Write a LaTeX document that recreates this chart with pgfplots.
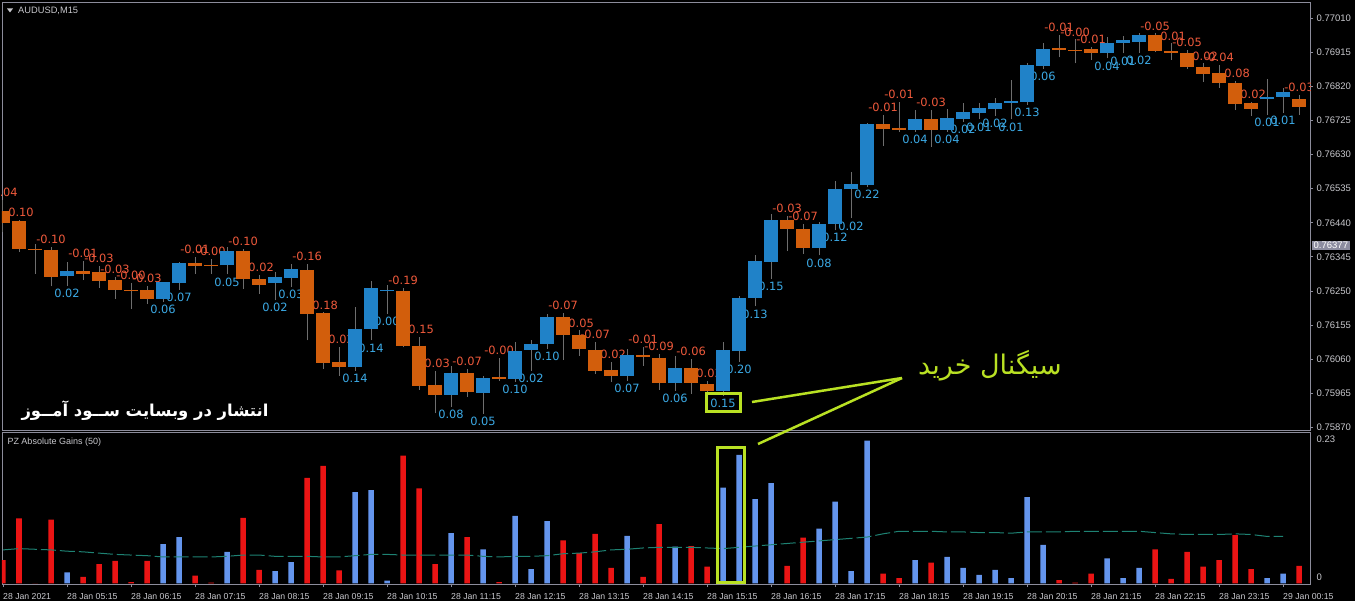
\documentclass[border=0pt]{standalone}
\usepackage{fontspec}
\setmainfont{Liberation Sans}
\newfontfamily\dv{DejaVu Sans}
\newfontfamily\fa[Script=Arabic]{DejaVu Sans}
\usepackage{pgfplots}
\pgfplotsset{compat=1.18}
\usepackage{pgfplotstable}
\TeXXeTstate=1

\definecolor{bear}{RGB}{210,94,12}
\definecolor{bull}{RGB}{32,130,200}
\definecolor{wick}{RGB}{110,110,110}
\definecolor{neglab}{RGB}{240,90,60}
\definecolor{poslab}{RGB}{60,170,230}
\definecolor{histred}{RGB}{235,20,20}
\definecolor{histblue}{RGB}{100,149,237}
\definecolor{malin}{RGB}{30,130,115}
\definecolor{framecol}{RGB}{140,140,155}
\definecolor{tickcol}{RGB}{200,200,205}
\definecolor{signal}{RGB}{185,225,35}
\definecolor{pricebox}{RGB}{140,140,160}

\newcommand\labfont{\dv\fontsize{11.4}{12}\selectfont}

% AUDUSD M15 candles: x open high low close label
\pgfplotstableread{
x o h l c lab
0 0.76473 0.76503 0.76414 0.76440 -0.04
1 0.76444 0.76447 0.76359 0.76366 -0.10
2 0.76368 0.76382 0.76298 0.76364 {}
3 0.76365 0.76373 0.76263 0.76289 -0.10
4 0.76291 0.76331 0.76263 0.76305 0.02
5 0.76305 0.76333 0.76280 0.76298 -0.01
6 0.76303 0.76320 0.76259 0.76278 -0.03
7 0.76280 0.76289 0.76228 0.76252 -0.03
8 0.76253 0.76272 0.76200 0.76250 -0.00
9 0.76253 0.76263 0.76214 0.76227 -0.03
10 0.76227 0.76276 0.76219 0.76274 0.06
11 0.76272 0.76331 0.76252 0.76329 0.07
12 0.76329 0.76345 0.76298 0.76320 -0.01
13 0.76323 0.76340 0.76298 0.76320 -0.00
14 0.76321 0.76373 0.76296 0.76361 0.05
15 0.76361 0.76368 0.76256 0.76284 -0.10
16 0.76284 0.76294 0.76242 0.76268 -0.02
17 0.76272 0.76303 0.76224 0.76289 0.02
18 0.76286 0.76326 0.76261 0.76312 0.03
19 0.76309 0.76326 0.76112 0.76186 -0.16
20 0.76188 0.76190 0.76033 0.76049 -0.18
21 0.76053 0.76093 0.76014 0.76038 -0.02
22 0.76038 0.76205 0.76028 0.76145 0.14
23 0.76145 0.76277 0.76112 0.76258 0.14
24 0.76250 0.76266 0.76186 0.76253 0.00
25 0.76249 0.76259 0.76093 0.76098 -0.19
26 0.76098 0.76123 0.75974 0.75986 -0.15
27 0.75989 0.76028 0.75909 0.75961 -0.03
28 0.75961 0.76042 0.75926 0.76021 0.08
29 0.76021 0.76033 0.75954 0.75968 -0.07
30 0.75965 0.76014 0.75907 0.76008 0.05
31 0.76010 0.76064 0.76000 0.76006 -0.00
32 0.76005 0.76107 0.75996 0.76084 0.10
33 0.76086 0.76112 0.76028 0.76103 0.02
34 0.76103 0.76185 0.76089 0.76177 0.10
35 0.76177 0.76188 0.76058 0.76128 -0.07
36 0.76126 0.76140 0.76070 0.76089 -0.05
37 0.76086 0.76107 0.76019 0.76028 -0.07
38 0.76030 0.76052 0.75996 0.76012 -0.02
39 0.76014 0.76089 0.76000 0.76072 0.07
40 0.76072 0.76093 0.76042 0.76066 -0.01
41 0.76064 0.76075 0.75974 0.75993 -0.09
42 0.75993 0.76070 0.75972 0.76036 0.06
43 0.76036 0.76061 0.75963 0.75993 -0.06
44 0.75991 0.76000 0.75968 0.75972 -0.03
45 0.75972 0.76107 0.75958 0.76086 0.15
46 0.76082 0.76235 0.76052 0.76231 0.20
47 0.76230 0.76349 0.76207 0.76333 0.13
48 0.76331 0.76464 0.76284 0.76449 0.15
49 0.76447 0.76458 0.76361 0.76423 -0.03
50 0.76423 0.76436 0.76354 0.76369 -0.07
51 0.76369 0.76443 0.76349 0.76436 0.08
52 0.76436 0.76556 0.76419 0.76533 0.12
53 0.76533 0.76582 0.76452 0.76548 0.02
54 0.76545 0.76718 0.76539 0.76715 0.22
55 0.76715 0.76740 0.76654 0.76702 -0.01
56 0.76705 0.76777 0.76694 0.76698 -0.01
57 0.76698 0.76754 0.76694 0.76729 0.04
58 0.76729 0.76754 0.76652 0.76700 -0.03
59 0.76700 0.76756 0.76694 0.76731 0.04
60 0.76729 0.76773 0.76722 0.76748 0.02
61 0.76747 0.76773 0.76728 0.76761 0.01
62 0.76756 0.76789 0.76737 0.76773 0.02
63 0.76773 0.76838 0.76728 0.76780 0.01
64 0.76777 0.76886 0.76768 0.76880 0.13
65 0.76877 0.76942 0.76870 0.76923 0.06
66 0.76926 0.76963 0.76901 0.76921 -0.01
67 0.76921 0.76951 0.76884 0.76918 -0.00
68 0.76923 0.76931 0.76894 0.76912 -0.01
69 0.76912 0.76959 0.76898 0.76940 0.04
70 0.76942 0.76961 0.76912 0.76950 0.01
71 0.76945 0.76970 0.76914 0.76963 0.02
72 0.76963 0.76968 0.76916 0.76918 -0.05
73 0.76918 0.76940 0.76894 0.76912 -0.01
74 0.76914 0.76921 0.76870 0.76875 -0.05
75 0.76875 0.76884 0.76833 0.76855 -0.02
76 0.76858 0.76879 0.76817 0.76830 -0.04
77 0.76830 0.76835 0.76754 0.76771 -0.08
78 0.76773 0.76777 0.76738 0.76756 -0.02
79 0.76784 0.76840 0.76740 0.76791 0.01
80 0.76791 0.76817 0.76747 0.76804 0.01
81 0.76784 0.76796 0.76740 0.76764 -0.03
}\candles

% PZ Absolute Gains (50): x value up(1)/down(0) average
\pgfplotstableread{
x v s m
0 0.036 0 0.052
1 0.101 0 0.054
2 0.000 0 0.053
3 0.099 0 0.052
4 0.017 1 0.050
5 0.010 0 0.049
6 0.030 0 0.047
7 0.035 0 0.045
8 0.002 0 0.044
9 0.035 0 0.043
10 0.061 1 0.041
11 0.072 1 0.041
12 0.012 0 0.041
13 0.001 0 0.041
14 0.049 1 0.042
15 0.102 0 0.044
16 0.021 0 0.044
17 0.019 1 0.042
18 0.033 1 0.042
19 0.164 0 0.042
20 0.183 0 0.041
21 0.020 0 0.041
22 0.142 1 0.043
23 0.145 1 0.045
24 0.004 1 0.045
25 0.199 0 0.044
26 0.148 0 0.044
27 0.030 0 0.044
28 0.078 1 0.044
29 0.072 0 0.044
30 0.053 1 0.042
31 0.002 0 0.041
32 0.105 1 0.042
33 0.022 1 0.042
34 0.097 1 0.043
35 0.067 0 0.046
36 0.047 0 0.047
37 0.077 0 0.049
38 0.024 0 0.052
39 0.074 1 0.053
40 0.010 0 0.055
41 0.092 0 0.056
42 0.057 1 0.056
43 0.058 0 0.056
44 0.026 0 0.055
45 0.149 1 0.054
46 0.200 1 0.056
47 0.131 1 0.058
48 0.156 1 0.060
49 0.027 0 0.062
50 0.071 0 0.064
51 0.085 1 0.066
52 0.127 1 0.068
53 0.019 1 0.070
54 0.222 1 0.072
55 0.015 0 0.077
56 0.008 0 0.081
57 0.036 1 0.081
58 0.032 0 0.081
59 0.041 1 0.080
60 0.024 1 0.080
61 0.013 1 0.079
62 0.021 1 0.079
63 0.008 1 0.078
64 0.134 1 0.080
65 0.060 1 0.080
66 0.005 0 0.080
67 0.001 0 0.081
68 0.015 0 0.081
69 0.039 1 0.081
70 0.008 1 0.081
71 0.024 1 0.081
72 0.053 0 0.079
73 0.007 0 0.077
74 0.049 0 0.076
75 0.026 0 0.076
76 0.036 0 0.076
77 0.075 0 0.077
78 0.022 0 0.076
79 0.008 1 0.073
80 0.015 1 0.073
81 0.027 0 nan
}\gains

\begin{document}
\begin{tikzpicture}[x=1pt,y=1pt]
\useasboundingbox (0,0) rectangle (1355,-601);
\clip (0,0) rectangle (1355,-601);
\fill[black] (0,0) rectangle (1355,-601);

% price panel
\begin{axis}[
  at={(2pt,-2pt)}, anchor=north west, scale only axis,
  width=1308pt, height=428pt,
  xmin=-0.0625, xmax=81.6875, ymin=0.758625, ymax=0.770554,
  axis line style={framecol, line width=0.8pt},
  xtick=\empty, scaled y ticks=false, clip marker paths=true,
  ytick={0.75870,0.75965,0.76060,0.76155,0.76250,0.76345,0.76440,0.76535,0.76630,0.76725,0.76820,0.76915,0.77010},
  yticklabel pos=right, ytick pos=right, tick align=outside, major tick length=3pt,
  ytick style={framecol, line width=0.8pt},
  yticklabel style={font=\fontsize{9.5}{10}\selectfont, text=tickcol,
    /pgf/number format/.cd, fixed, fixed zerofill, precision=5, assume math mode=true},
]
% gain labels, under the candles
\addplot[draw=none, mark=none, nodes near coords, point meta=explicit symbolic,
  x filter/.expression={\thisrow{c}<\thisrow{o} ? x : nan},
  nodes near coords style={font=\labfont, text=neglab, anchor=center, inner sep=0pt, yshift=7.5pt}]
  table[x=x, y=h, meta=lab] {\candles};
\addplot[draw=none, mark=none, nodes near coords, point meta=explicit symbolic,
  x filter/.expression={\thisrow{c}<\thisrow{o} ? nan : x},
  nodes near coords style={font=\labfont, text=poslab, anchor=center, inner sep=0pt, yshift=-7.5pt}]
  table[x=x, y=l, meta=lab] {\candles};
% candles: wick, then body
\pgfplotsinvokeforeach{0,...,81}{%
  \pgfplotstablegetelem{#1}{o}\of\candles\let\cO\pgfplotsretval
  \pgfplotstablegetelem{#1}{h}\of\candles\let\cH\pgfplotsretval
  \pgfplotstablegetelem{#1}{l}\of\candles\let\cL\pgfplotsretval
  \pgfplotstablegetelem{#1}{c}\of\candles\let\cC\pgfplotsretval
  \ifdim\cC pt<\cO pt \def\cCol{bear}\else \def\cCol{bull}\fi
  \edef\doCandle{%
    \noexpand\addplot[wick, line width=1pt, forget plot] coordinates {(#1,\cL) (#1,\cH)};
    \noexpand\addplot[\cCol, line width=14pt, line cap=butt, forget plot] coordinates {(#1,\cO) (#1,\cC)};}%
  \doCandle
}
\end{axis}

% indicator panel
\begin{axis}[
  at={(2pt,-432pt)}, anchor=north west, scale only axis,
  width=1308pt, height=152pt,
  xmin=-0.0625, xmax=81.6875, ymin=-0.0011, ymax=0.2356,
  axis line style={framecol, line width=0.8pt},
  xtick={0,4,...,80}, xtick pos=bottom,
  xticklabels={28 Jan 2021,28 Jan 05:15,28 Jan 06:15,28 Jan 07:15,28 Jan 08:15,28 Jan 09:15,28 Jan 10:15,28 Jan 11:15,28 Jan 12:15,28 Jan 13:15,28 Jan 14:15,28 Jan 15:15,28 Jan 16:15,28 Jan 17:15,28 Jan 18:15,28 Jan 19:15,28 Jan 20:15,28 Jan 21:15,28 Jan 22:15,28 Jan 23:15,29 Jan 00:15},
  tick align=outside, major tick length=3pt,
  xtick style={framecol, line width=0.8pt},
  xticklabel style={font=\fontsize{8.7}{9}\selectfont, text=tickcol, anchor=west, inner sep=0pt, yshift=-10pt},
  ytick={0.0098,0.2247}, yticklabels={0,0.23}, yticklabel pos=right, ytick pos=right,
  ytick style={draw=none},
  yticklabel style={font=\fontsize{9.5}{10}\selectfont, text=tickcol},
]
\addplot[ybar, bar width=5.5pt, bar shift=0pt, fill=histred, draw=none,
  x filter/.expression={\thisrow{s}==0 ? x : nan}] table[x=x, y=v] {\gains};
\addplot[ybar, bar width=5.5pt, bar shift=0pt, fill=histblue, draw=none,
  x filter/.expression={\thisrow{s}==1 ? x : nan}] table[x=x, y=v] {\gains};
\addplot[malin, line width=1pt, dash pattern=on 15pt off 4pt] table[x=x, y=m] {\gains};
\end{axis}

% labels and notes
\fill[tickcol] (7,-8.5) -- (13,-8.5) -- (10,-12.5) -- cycle;
\node[anchor=west, inner sep=0pt, text=tickcol, font=\fontsize{9.3}{10}\selectfont] at (18,-10.7) {AUDUSD,M15};
\node[anchor=west, inner sep=0pt, text=tickcol, font=\fontsize{9}{10}\selectfont] at (7.3,-442) {PZ Absolute Gains (50)};
\node[anchor=west, fill=pricebox, text=white, inner sep=1.5pt, font=\fontsize{9.5}{10}\selectfont] at (1312,-245.4) {0.76377};

\node[text=white, font=\fa\bfseries\fontsize{16.4}{18}\selectfont] at (145,-411) {\beginR انتشار در وبسایت ســود آمــوز\endR};
\node[text=signal, font=\fa\fontsize{27}{30}\selectfont] at (990,-366) {\beginR سیگنال خرید\endR};

\draw[signal, line width=3pt] (706.5,-393.2) rectangle (740.2,-411.8);
\draw[signal, line width=3pt] (717.2,-447.2) rectangle (744.5,-582.8);
\draw[signal, line width=2.5pt] (752,-402) -- (902,-378);
\draw[signal, line width=2.5pt] (758,-444) -- (902,-378);
\end{tikzpicture}
\end{document}
